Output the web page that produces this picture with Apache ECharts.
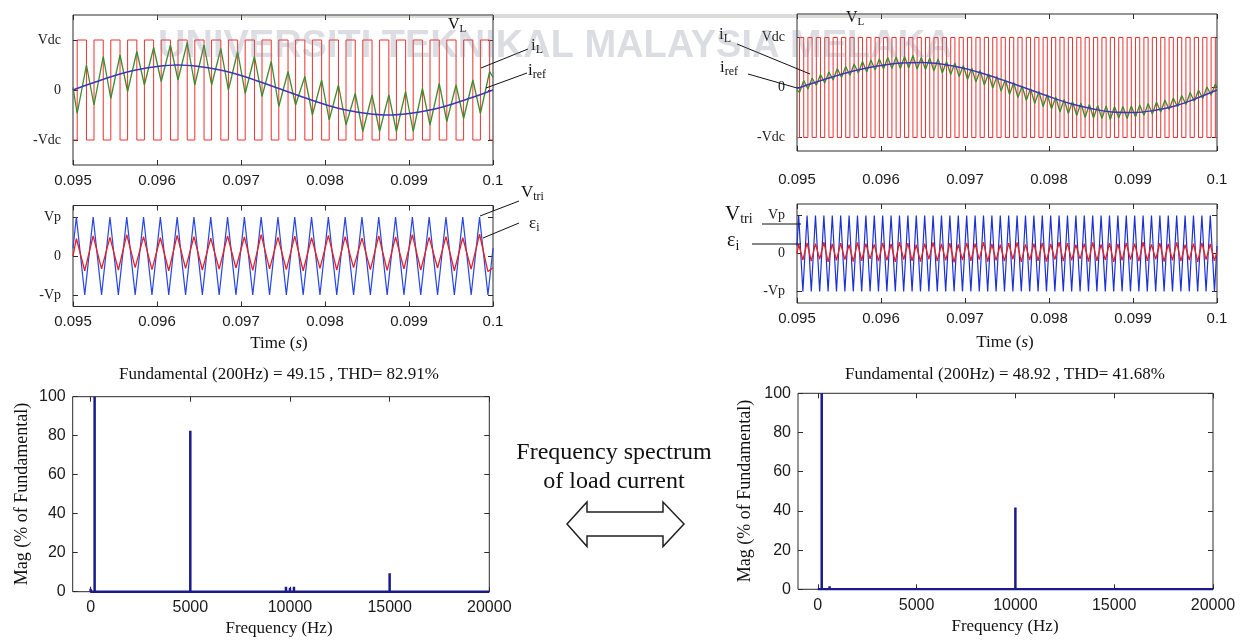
<!DOCTYPE html>
<html><head><meta charset="utf-8">
<script src="https://cdn.jsdelivr.net/npm/echarts@6/dist/echarts.min.js"></script>
<style>html,body{margin:0;padding:0;background:#fff}#c{width:1254px;height:641px}</style>
</head><body><div id="c"></div>
<script>
// ================= DATA =================
const timeTicks = [0.095, 0.096, 0.097, 0.098, 0.099, 0.1];
const timeTickLabels = ['0.095', '0.096', '0.097', '0.098', '0.099', '0.1'];
const vdcTicks = [-1, 0, 1];
const vdcTickLabels = ['-Vdc', '0', 'Vdc'];
const vpTicks = [-1, 0, 1];
const vpTickLabels = ['-Vp', '0', 'Vp'];
const freqTicks = [0, 5000, 10000, 15000, 20000];
const freqTickLabels = ['0', '5000', '10000', '15000', '20000'];
const magTicks = [0, 20, 40, 60, 80, 100];
const magTickLabels = ['0', '20', '40', '60', '80', '100'];

// ---- Left case (5 kHz switching) ----
const vlLeftRise = [0.09505,0.09525,0.09545,0.09565,0.09585,0.09605,0.09625,0.09645,0.09665,0.09685,0.09705,0.09725,0.09745,0.09765,0.09785,0.09805,0.09825,0.09845,0.09865,0.09885,0.09905,0.09925,0.09945,0.09965,0.09985];
const vlLeftFall = [0.09516,0.09536,0.09556,0.09576,0.09596,0.09616,0.09636,0.09656,0.09676,0.09696,0.09716,0.09736,0.09756,0.09776,0.09796,0.09816,0.09836,0.09856,0.09876,0.09896,0.09916,0.09936,0.09956,0.09976,0.09996];
const vlLevels = [-1, 1];            // -Vdc / +Vdc
const ilLeftTrough = [-0.47,-0.30,-0.17,-0.03,0.10,0.17,0.20,0.10,0.10,0.00,-0.07,-0.13,-0.33,-0.30,-0.50,-0.60,-0.70,-0.83,-0.83,-0.83,-0.83,-0.70,-0.63,-0.57,-0.47];
const ilLeftPeak   = [0.50,0.67,0.70,0.77,0.85,0.90,0.95,0.90,0.83,0.77,0.67,0.57,0.37,0.27,0.20,0.10,-0.07,-0.10,-0.10,-0.03,0.03,0.13,0.10,0.20,0.37];
const ilLeftEnds = [0.05, 0.25];
const irefLeftT = [0.095,0.09525,0.0955,0.09575,0.096,0.09625,0.0965,0.09675,0.097,0.09725,0.0975,0.09775,0.098,0.09825,0.0985,0.09875,0.099,0.09925,0.0995,0.09975,0.1];
const irefLeftV = [0.0,0.15,0.29,0.40,0.47,0.50,0.47,0.40,0.29,0.15,0.0,-0.15,-0.29,-0.40,-0.47,-0.50,-0.47,-0.40,-0.29,-0.15,0.0];
const triLeftPeakT = [0.09504,0.09524,0.09544,0.09564,0.09584,0.09604,0.09624,0.09644,0.09664,0.09684,0.09704,0.09724,0.09744,0.09764,0.09784,0.09804,0.09824,0.09844,0.09864,0.09884,0.09904,0.09924,0.09944,0.09964,0.09984];
const triLeftValleyT = [0.09514,0.09534,0.09554,0.09574,0.09594,0.09614,0.09634,0.09654,0.09674,0.09694,0.09714,0.09734,0.09754,0.09774,0.09794,0.09814,0.09834,0.09854,0.09874,0.09894,0.09914,0.09934,0.09954,0.09974,0.09994];
const triLevels = [1, -1];               // +Vp / -Vp
const triLeftEnds = [0.2, 0.2];
const epsLeftPeak = [0.45,0.52,0.48,0.55,0.50,0.47,0.53,0.50,0.46,0.52,0.49,0.55,0.48,0.51,0.47,0.53,0.50,0.46,0.52,0.49,0.55,0.48,0.50,0.47,0.56];
const epsLeftTrough = [-0.38,-0.33,-0.36,-0.30,-0.35,-0.38,-0.32,-0.36,-0.34,-0.31,-0.37,-0.33,-0.35,-0.38,-0.32,-0.36,-0.30,-0.35,-0.37,-0.33,-0.36,-0.31,-0.38,-0.34,-0.40];
const epsLeftEnds = [0.0, -0.3];
const specLeftFreq = [0, 200, 400, 5000, 9800, 10000, 10200, 15000];
const specLeftMag  = [1.5, 100, 1, 82.5, 2.5, 2, 2.5, 9.5];

// ---- Right case (10 kHz effective switching) ----
const vlRightRise = [0.09503,0.09513,0.09523,0.09533,0.09543,0.09553,0.09563,0.09573,0.09583,0.09593,0.09603,0.09613,0.09623,0.09633,0.09643,0.09653,0.09663,0.09673,0.09683,0.09693,0.09703,0.09713,0.09723,0.09733,0.09743,0.09753,0.09763,0.09773,0.09783,0.09793,0.09803,0.09813,0.09823,0.09833,0.09843,0.09853,0.09863,0.09873,0.09883,0.09893,0.09903,0.09913,0.09923,0.09933,0.09943,0.09953,0.09963,0.09973,0.09983,0.09993];
const vlRightFall = [0.09508,0.09518,0.09528,0.09538,0.09548,0.09558,0.09568,0.09578,0.09588,0.09598,0.09608,0.09618,0.09628,0.09638,0.09648,0.09658,0.09668,0.09678,0.09688,0.09698,0.09708,0.09718,0.09728,0.09738,0.09748,0.09758,0.09768,0.09778,0.09788,0.09798,0.09808,0.09818,0.09828,0.09838,0.09848,0.09858,0.09868,0.09878,0.09888,0.09898,0.09908,0.09918,0.09928,0.09938,0.09948,0.09958,0.09968,0.09978,0.09988,0.09998];
const ilRightTrough = [-0.10,-0.03,0.04,0.09,0.15,0.20,0.24,0.29,0.31,0.35,0.37,0.38,0.38,0.39,0.37,0.36,0.33,0.29,0.26,0.22,0.16,0.11,0.05,-0.01,-0.07,-0.14,-0.20,-0.26,-0.32,-0.38,-0.43,-0.49,-0.52,-0.56,-0.60,-0.61,-0.62,-0.64,-0.61,-0.62,-0.59,-0.56,-0.53,-0.49,-0.44,-0.39,-0.34,-0.28,-0.22,-0.15];
const ilRightPeak = [0.14,0.19,0.26,0.31,0.38,0.42,0.47,0.52,0.55,0.57,0.60,0.61,0.62,0.64,0.60,0.59,0.57,0.52,0.49,0.44,0.39,0.34,0.28,0.22,0.16,0.10,0.03,-0.02,-0.08,-0.14,-0.19,-0.24,-0.28,-0.31,-0.34,-0.36,-0.37,-0.38,-0.38,-0.37,-0.35,-0.32,-0.29,-0.25,-0.21,-0.16,-0.10,-0.05,0.01,0.07];
const ilRightEnds = [-0.05, 0.0];
const irefRightT = [0.095,0.09525,0.0955,0.09575,0.096,0.09625,0.0965,0.09675,0.097,0.09725,0.0975,0.09775,0.098,0.09825,0.0985,0.09875,0.099,0.09925,0.0995,0.09975,0.1];
const irefRightV = [-0.02,0.12,0.25,0.36,0.44,0.49,0.50,0.46,0.38,0.26,0.12,-0.03,-0.18,-0.32,-0.42,-0.49,-0.50,-0.46,-0.37,-0.22,-0.05];
const triRightPeakT = [0.09502,0.09512,0.09522,0.09532,0.09542,0.09552,0.09562,0.09572,0.09582,0.09592,0.09602,0.09612,0.09622,0.09632,0.09642,0.09652,0.09662,0.09672,0.09682,0.09692,0.09702,0.09712,0.09722,0.09732,0.09742,0.09752,0.09762,0.09772,0.09782,0.09792,0.09802,0.09812,0.09822,0.09832,0.09842,0.09852,0.09862,0.09872,0.09882,0.09892,0.09902,0.09912,0.09922,0.09932,0.09942,0.09952,0.09962,0.09972,0.09982,0.09992];
const triRightValleyT = [0.09507,0.09517,0.09527,0.09537,0.09547,0.09557,0.09567,0.09577,0.09587,0.09597,0.09607,0.09617,0.09627,0.09637,0.09647,0.09657,0.09667,0.09677,0.09687,0.09697,0.09707,0.09717,0.09727,0.09737,0.09747,0.09757,0.09767,0.09777,0.09787,0.09797,0.09807,0.09817,0.09827,0.09837,0.09847,0.09857,0.09867,0.09877,0.09887,0.09897,0.09907,0.09917,0.09927,0.09937,0.09947,0.09957,0.09967,0.09977,0.09987,0.09997];
const triRightEnds = [0.2, 0.2];
const epsRightPeak = [0.24,0.28,0.26,0.30,0.25,0.27,0.23,0.29,0.26,0.24,0.28,0.25,0.30,0.27,0.23,0.26,0.29,0.25,0.27,0.24,0.28,0.26,0.30,0.25,0.23,0.27,0.29,0.24,0.26,0.28,0.25,0.30,0.27,0.23,0.26,0.29,0.24,0.27,0.25,0.28,0.26,0.30,0.24,0.27,0.25,0.29,0.23,0.26,0.28,0.25];
const epsRightTrough = [-0.17,-0.20,-0.15,-0.22,-0.18,-0.16,-0.21,-0.19,-0.14,-0.20,-0.18,-0.22,-0.16,-0.19,-0.21,-0.15,-0.20,-0.18,-0.23,-0.17,-0.19,-0.16,-0.21,-0.18,-0.20,-0.15,-0.22,-0.17,-0.19,-0.21,-0.16,-0.20,-0.18,-0.14,-0.21,-0.19,-0.17,-0.22,-0.18,-0.16,-0.20,-0.19,-0.15,-0.21,-0.18,-0.20,-0.17,-0.22,-0.16,-0.19];
const epsRightEnds = [0.0, 0.05];
const specRightFreq = [0, 200, 600, 10000];
const specRightMag  = [1, 100, 1.5, 41.7];

const titleLeft = 'Fundamental (200Hz) = 49.15 , THD= 82.91%';
const titleRight = 'Fundamental (200Hz) = 48.92 , THD= 41.68%';

// ================= BUILD =================
const SERIF = '"Liberation Serif","DejaVu Serif",serif';
const SANS = '"Liberation Sans",Arial,sans-serif';
const T0 = timeTicks[0], T1 = timeTicks[timeTicks.length - 1];

function pick(ticks, labels, v) {
  for (let i = 0; i < ticks.length; i++) {
    if (Math.abs(ticks[i] - v) <= 1e-9 * Math.max(1, Math.abs(ticks[i]))) return labels[i];
  }
  return '';
}
function squarePts(rise, fall, lv) {
  const p = [[T0, lv[0]]];
  for (let k = 0; k < rise.length; k++) {
    p.push([rise[k], lv[0]], [rise[k], lv[1]], [fall[k], lv[1]], [fall[k], lv[0]]);
  }
  p.push([T1, lv[0]]);
  return p;
}
function zigzag(tA, vA, tB, vB, ends) {
  const p = [[T0, ends[0]]];
  for (let k = 0; k < tA.length; k++) { p.push([tA[k], vA[k]], [tB[k], vB[k]]); }
  p.push([T1, ends[1]]);
  return p;
}
function constArr(n, v) { return new Array(n).fill(v); }
function pairs(t, v) { return t.map((x, i) => [x, v[i]]); }
function spikes(f, m) {
  const idx = f.map((_, i) => i).sort((a, b) => f[a] - f[b]);
  const p = [[freqTicks[0], 0]];
  idx.forEach(i => { p.push([f[i], 0], [f[i], m[i]], [f[i], 0]); });
  p.push([freqTicks[freqTicks.length - 1], 0]);
  return p;
}

const grids = [], xAxes = [], yAxes = [], series = [];
function panel(c) {
  const gi = grids.length;
  grids.push({left: c.left, top: c.top, width: c.width, height: c.height, show: true,
    borderColor: '#2b2b2b', borderWidth: 1, backgroundColor: 'rgba(0,0,0,0)'});
  const tick = () => ({show: true, inside: true, length: 5, lineStyle: {color: '#2b2b2b', width: 1}});
  const base = {gridIndex: gi, type: 'value', axisLine: {show: false, onZero: false}, splitLine: {show: false}};
  const xi = xAxes.length;
  xAxes.push(Object.assign({}, base, {min: c.xmin, max: c.xmax, position: 'bottom',
    axisTick: Object.assign(tick(), {customValues: c.xTicks}),
    axisLabel: {customValues: c.xTicks, formatter: v => pick(c.xTicks, c.xLabels, v), margin: c.xMargin,
      fontFamily: c.xFont, fontSize: c.xSize, color: '#1a1a1a'}}));
  xAxes.push(Object.assign({}, base, {min: c.xmin, max: c.xmax, position: 'top',
    axisTick: Object.assign(tick(), {customValues: c.xTicks}), axisLabel: {show: false}}));
  const yi = yAxes.length;
  yAxes.push(Object.assign({}, base, {min: c.ymin, max: c.ymax, position: 'left',
    axisTick: Object.assign(tick(), {customValues: c.yTicks}),
    axisLabel: {customValues: c.yTicks, formatter: v => pick(c.yTicks, c.yLabels, v), margin: c.yMargin,
      fontFamily: c.yFont, fontSize: c.ySize, color: '#1a1a1a'}}));
  yAxes.push(Object.assign({}, base, {min: c.ymin, max: c.ymax, position: 'right',
    axisTick: Object.assign(tick(), {customValues: c.yTicks}), axisLabel: {show: false}}));
  return {x: xi, y: yi};
}
function addLine(ax, data, color, width, z) {
  series.push({type: 'line', xAxisIndex: ax.x, yAxisIndex: ax.y, data: data, symbol: 'none', showSymbol: false,
    lineStyle: {color: color, width: width}, silent: true, animation: false, clip: true, z: z});
}
function addSmooth(ax, data, color, width, z) {
  series.push({type: 'line', xAxisIndex: ax.x, yAxisIndex: ax.y, data: data, symbol: 'none', showSymbol: false,
    smooth: 0.4, lineStyle: {color: color, width: width}, silent: true, animation: false, clip: true, z: z});
}

// --- Top-left ---
const aTL = panel({left: 73, top: 15, width: 420, height: 150, xmin: T0, xmax: T1, xTicks: timeTicks, xLabels: timeTickLabels,
  xMargin: 8, xFont: SANS, xSize: 15, ymin: -1.5, ymax: 1.5, yTicks: vdcTicks, yLabels: vdcTickLabels, yMargin: 12, yFont: SERIF, ySize: 14});
addLine(aTL, squarePts(vlLeftRise, vlLeftFall, vlLevels), '#ee3030', 1, 2);
addLine(aTL, zigzag(vlLeftRise, ilLeftTrough, vlLeftFall, ilLeftPeak, ilLeftEnds), '#3f8a2c', 1.3, 3);
addSmooth(aTL, pairs(irefLeftT, irefLeftV), '#3838b8', 1.6, 4);

// --- Mid-left ---
const aML = panel({left: 73, top: 205.5, width: 420, height: 101, xmin: T0, xmax: T1, xTicks: timeTicks, xLabels: timeTickLabels,
  xMargin: 8, xFont: SANS, xSize: 15, ymin: -1.3, ymax: 1.3, yTicks: vpTicks, yLabels: vpTickLabels, yMargin: 12, yFont: SERIF, ySize: 14});
addLine(aML, zigzag(triLeftPeakT, constArr(triLeftPeakT.length, triLevels[0]), triLeftValleyT, constArr(triLeftValleyT.length, triLevels[1]), triLeftEnds), '#2846e6', 1.2, 2);
addLine(aML, zigzag(triLeftPeakT, epsLeftPeak, triLeftValleyT, epsLeftTrough, epsLeftEnds), '#e82020', 1.3, 3);

// --- Bottom-left spectrum ---
const aBL = panel({left: 72.7, top: 396.7, width: 416.6, height: 195, xmin: -900, xmax: 20000, xTicks: freqTicks, xLabels: freqTickLabels,
  xMargin: 8, xFont: SANS, xSize: 16, ymin: 0, ymax: 100, yTicks: magTicks, yLabels: magTickLabels, yMargin: 7, yFont: SANS, ySize: 16});
addLine(aBL, spikes(specLeftFreq, specLeftMag), '#1a1a8c', 2.5, 3);

// --- Top-right ---
const aTR = panel({left: 797, top: 14, width: 420, height: 137, xmin: T0, xmax: T1, xTicks: timeTicks, xLabels: timeTickLabels,
  xMargin: 21, xFont: SANS, xSize: 15, ymin: -1.27, ymax: 1.47, yTicks: vdcTicks, yLabels: vdcTickLabels, yMargin: 12, yFont: SERIF, ySize: 14});
addLine(aTR, squarePts(vlRightRise, vlRightFall, vlLevels), '#ee3030', 1, 2);
addLine(aTR, zigzag(vlRightRise, ilRightTrough, vlRightFall, ilRightPeak, ilRightEnds), '#3f8a2c', 1.3, 3);
addSmooth(aTR, pairs(irefRightT, irefRightV), '#3838b8', 1.4, 4);

// --- Mid-right ---
const aMR = panel({left: 797, top: 204, width: 420, height: 99, xmin: T0, xmax: T1, xTicks: timeTicks, xLabels: timeTickLabels,
  xMargin: 8, xFont: SANS, xSize: 15, ymin: -1.3, ymax: 1.3, yTicks: vpTicks, yLabels: vpTickLabels, yMargin: 12, yFont: SERIF, ySize: 14});
addLine(aMR, zigzag(triRightPeakT, constArr(triRightPeakT.length, triLevels[0]), triRightValleyT, constArr(triRightValleyT.length, triLevels[1]), triRightEnds), '#1c30d8', 1.2, 2);
addLine(aMR, zigzag(triRightPeakT, epsRightPeak, triRightValleyT, epsRightTrough, epsRightEnds), '#e82020', 1.3, 3);

// --- Bottom-right spectrum ---
const aBR = panel({left: 798, top: 393.3, width: 415, height: 196, xmin: -1000, xmax: 20000, xTicks: freqTicks, xLabels: freqTickLabels,
  xMargin: 8, xFont: SANS, xSize: 16, ymin: 0, ymax: 100, yTicks: magTicks, yLabels: magTickLabels, yMargin: 7, yFont: SANS, ySize: 16});
addLine(aBR, spikes(specRightFreq, specRightMag), '#1a1a8c', 2.5, 3);

// ---- text / annotations ----
function txt(x, y, s, size, opt) {
  return Object.assign({type: 'text', x: x, y: y, z: 50, silent: true,
    style: {text: s, font: size + 'px ' + SERIF, fill: '#111', align: 'center', verticalAlign: 'middle'}}, opt || {});
}
function subTxt(x, y, main, sub, size, subSize, drop) {
  return {type: 'text', x: x, y: y, z: 50, silent: true,
    style: {text: '{m|' + main + '}{s|' + sub + '}', fill: '#111', align: 'left', verticalAlign: 'top',
      rich: {m: {fontFamily: SERIF, fontSize: size, verticalAlign: 'top', fill: '#111'},
             s: {fontFamily: SERIF, fontSize: subSize, verticalAlign: 'top', padding: [drop, 0, 0, 0], fill: '#111'}}}};
}
function seg(x1, y1, x2, y2) {
  return {type: 'line', z: 50, silent: true, shape: {x1: x1, y1: y1, x2: x2, y2: y2}, style: {stroke: '#111', lineWidth: 1}};
}
function timeLabel(x, y) {
  return {type: 'text', x: x, y: y, z: 50, silent: true,
    style: {text: 'Time ({i|s})', font: '17px ' + SERIF, fill: '#111', align: 'center', verticalAlign: 'middle',
      rich: {i: {fontStyle: 'italic', fontFamily: SERIF, fontSize: 17, fill: '#111'}}}};
}
const graphic = [
  // watermark
  {type: 'rect', z: 60, silent: true, shape: {x: 157, y: 14, width: 808, height: 4}, style: {fill: 'rgba(140,140,150,0.3)'}},
  {type: 'text', x: 158, y: 47, z: 60, silent: true, style: {text: 'UNIVERSITI TEKNIKAL MALAYSIA MELAKA',
    font: 'bold 38px ' + SANS, fill: 'rgba(130,132,150,0.28)', align: 'left', verticalAlign: 'middle'}},
  // top-left labels
  subTxt(448, 17, 'V', 'L', 16, 11, 7),
  subTxt(531, 37, 'i', 'L', 17, 12, 7),
  subTxt(528, 62, 'i', 'ref', 17, 12, 7),
  seg(481, 68, 528, 49), seg(486, 88, 527, 73),
  // mid-left labels
  subTxt(521, 184, 'V', 'tri', 17, 12, 7),
  subTxt(529, 215, 'ε', 'i', 17, 12, 7),
  seg(480, 216, 519, 201), seg(483, 238, 519, 223),
  // top-right labels
  subTxt(846, 10, 'V', 'L', 16, 11, 7),
  subTxt(719, 26, 'i', 'L', 17, 12, 7),
  subTxt(720, 59, 'i', 'ref', 17, 12, 7),
  seg(737, 44, 810, 74), seg(748, 74, 797, 88),
  // mid-right labels
  subTxt(725, 204, 'V', 'tri', 21, 14, 8),
  subTxt(727, 231, 'ε', 'i', 20, 14, 8),
  seg(762, 224, 801, 224), seg(752, 244, 801, 244),
  // axis titles
  timeLabel(279, 344),
  timeLabel(1005, 343),
  txt(279, 375, titleLeft, 17),
  txt(1005, 375, titleRight, 17),
  txt(279, 629, 'Frequency (Hz)', 17),
  txt(1005, 627, 'Frequency (Hz)', 17),
  txt(22, 494, 'Mag (% of Fundamental)', 18, {rotation: Math.PI / 2}),
  txt(745, 491, 'Mag (% of Fundamental)', 18, {rotation: Math.PI / 2}),
  // centre note
  txt(614, 453, 'Frequency spectrum', 24),
  txt(614, 482, 'of load current', 24),
  {type: 'polygon', z: 50, silent: true, shape: {points: [[567,524],[587,502],[587,512],[663,512],[663,502],[684,524],[663,546.5],[663,536],[587,536],[587,546.5]]},
    style: {fill: '#fff', stroke: '#222', lineWidth: 1.5}}
];

const chart = echarts.init(document.getElementById('c'), null, {renderer: 'canvas'});
chart.setOption({animation: false, backgroundColor: '#fff', grid: grids, xAxis: xAxes, yAxis: yAxes, series: series, graphic: graphic});
</script></body></html>
